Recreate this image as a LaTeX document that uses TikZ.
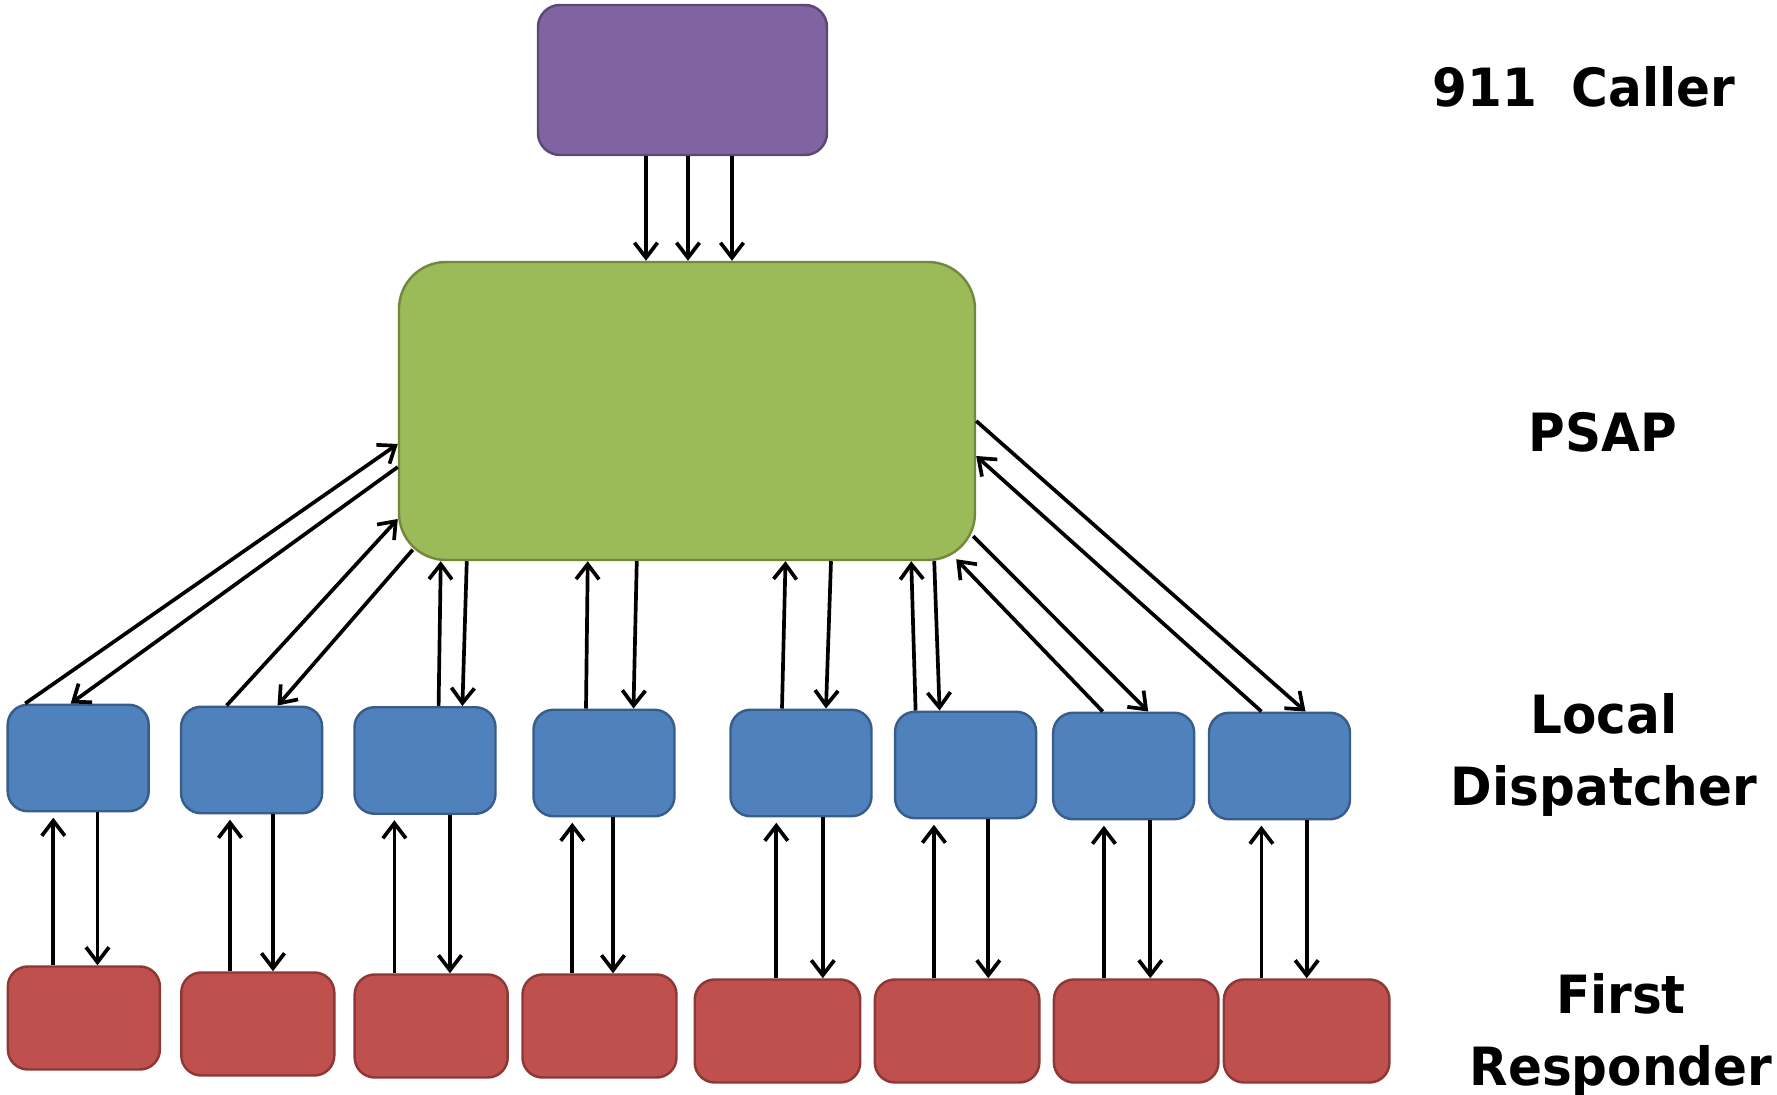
\documentclass[tikz,border=0pt]{standalone}
\usepackage{fontspec}
\newfontfamily\lblfont{DejaVu Sans}[FakeStretch=0.95]
\usetikzlibrary{arrows.meta}
\definecolor{callerfill}{HTML}{8064A2}
\definecolor{callerline}{HTML}{5C4776}
\definecolor{psapfill}{HTML}{9BBB59}
\definecolor{psapline}{HTML}{71893F}
\definecolor{dispfill}{HTML}{4F81BD}
\definecolor{displine}{HTML}{385D8A}
\definecolor{respfill}{HTML}{C0504D}
\definecolor{respline}{HTML}{8C3836}

\begin{document}
\begin{tikzpicture}[every node/.style={rounded corners=0.2cm, line width=0.7pt, inner sep=0pt}]
  \tikzset{caller/.style={draw=callerline, fill=callerfill, minimum width=2.89cm, minimum height=1.5cm, rounded corners=0.22cm},
    psap/.style={draw=psapline, fill=psapfill, minimum width=5.76cm, minimum height=2.98cm, rounded corners=0.47cm},
    disp/.style={draw=displine, fill=dispfill, minimum width=1.41cm, minimum height=1.065cm},
    resp/.style={draw=respline, fill=respfill, minimum height=1.03cm},
    link/.style={-{Straight Barb[length=1.5mm, width=2.3mm]}, line width=1.05pt},
    lbl/.style={font=\lblfont\bfseries\fontsize{15}{20.5}\selectfont, align=center, rounded corners=0pt}}
  \useasboundingbox (0,0) rectangle (17.77,-10.95);
  \node[caller] (C) at (6.825,-0.80) {};
  \node[psap] (P) at (6.87,-4.11) {};
  \foreach \i/\bx/\by/\rx/\ry/\rw/\ux/\dx in {
      1/0.782/-7.58/0.839/-10.18/1.52/0.533/0.975,
      2/2.516/-7.60/2.578/-10.24/1.53/2.30/2.73,
      3/4.25/-7.605/4.312/-10.26/1.53/3.944/4.50,
      4/6.04/-7.63/5.995/-10.26/1.54/5.723/6.13,
      5/8.01/-7.63/7.775/-10.31/1.655/7.763/8.228,
      6/9.656/-7.65/9.571/-10.31/1.645/9.339/9.883,
      7/11.237/-7.66/11.362/-10.31/1.645/11.039/11.503,
      8/12.795/-7.66/13.067/-10.31/1.655/12.614/13.067}{
    \node[disp] (D\i) at (\bx,\by) {};
    \node[resp, minimum width=\rw cm] (R\i) at (\rx,\ry) {};
    \coordinate (U\i) at (\ux,\ry);
    \coordinate (W\i) at (\dx,\ry);
    \draw[link, shorten >=1.5pt] (R\i.north -| U\i) -- (D\i.south -| U\i);
    \draw[link] (D\i.south -| W\i) -- (R\i.north -| W\i);
  }
  \foreach \s [count=\k] in {-0.365,0.055,0.495}{
    \coordinate (T\k) at ([xshift=\s cm]C.south);
    \draw[link] (T\k) -- (T\k |- P.north);
  }
  \draw[link] ([xshift=-0.53cm]D1.north) -- ([yshift=-0.33cm]P.west);
  \draw[link] ([yshift=-0.56cm]P.west) -- ([xshift=-0.075cm]D1.north);
  \draw[link] ([xshift=-0.25cm]D2.north) -- ([yshift=-1.08cm]P.west);
  \draw[link] ([xshift=0.15cm, yshift=0.115cm]P.south west) -- ([xshift=0.26cm]D2.north);
  \draw[link] ([xshift=0.136cm]D3.north) -- ([xshift=0.43cm]P.south west);
  \draw[link] ([xshift=0.69cm]P.south west) -- ([xshift=0.374cm]D3.north);
  \draw[link] ([xshift=-0.18cm]D4.north) -- ([xshift=1.90cm]P.south west);
  \draw[link] ([xshift=2.39cm]P.south west) -- ([xshift=0.295cm]D4.north);
  \draw[link] ([xshift=-0.19cm]D5.north) -- ([xshift=0.985cm]P.south);
  \draw[link] ([xshift=1.44cm]P.south) -- ([xshift=0.25cm]D5.north);
  \draw[link] ([xshift=-0.50cm]D6.north) -- ([xshift=-0.65cm]P.south east);
  \draw[link] ([xshift=-0.42cm]P.south east) -- ([xshift=-0.26cm]D6.north);
  \draw[link] ([xshift=-0.21cm]D7.north) -- ([xshift=-0.20cm, yshift=0.02cm]P.south east);
  \draw[link] ([xshift=-0.03cm, yshift=0.25cm]P.south east) -- ([xshift=0.245cm]D7.north);
  \draw[link] ([xshift=-0.18cm]D8.north) -- ([yshift=-0.45cm]P.east);
  \draw[link] ([yshift=-0.10cm]P.east) -- ([xshift=0.26cm]D8.north);
  \node[lbl] (LC) at (15.84,-0.87) {911\ \ Caller};
  \node[lbl] (LP) at (16.03,-4.32) {PSAP};
  \node[lbl] (LD) at (16.04,-7.55) {Local\\Dispatcher};
  \node[lbl] (LR) at (16.21,-10.35) {First\\Responder};
\end{tikzpicture}
\end{document}
